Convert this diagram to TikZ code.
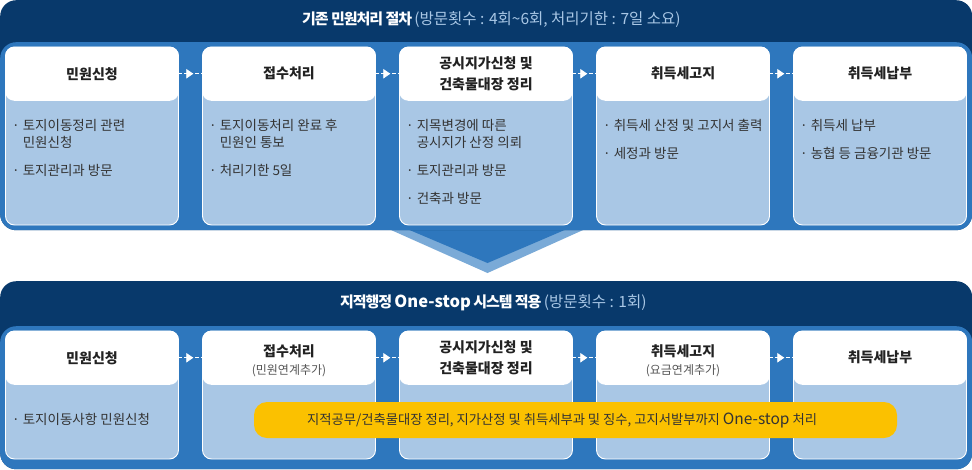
\documentclass[tikz,border=0pt]{standalone}
\usepackage{fontspec}
\setmainfont{Noto Sans CJK KR}
\usetikzlibrary{arrows.meta,decorations.markings}
\definecolor{navy}{HTML}{08396B}
\definecolor{bandblue}{HTML}{2E77BD}
\definecolor{cardbody}{HTML}{A9C7E5}
\definecolor{lightarrow}{HTML}{7AAAD7}
\definecolor{subtxt}{HTML}{A9C7E5}
\definecolor{pillyellow}{HTML}{FBC100}
\definecolor{titletxt}{HTML}{222222}
\definecolor{bodytxt}{HTML}{333333}
\definecolor{notetxt}{HTML}{555555}
\newcommand{\headbold}[1]{{\fontsize{15}{17}\selectfont\bfseries\addfontfeature{LetterSpace=-7}#1}}
\newcommand{\headlatin}[1]{{\fontsize{16.5}{17}\selectfont\bfseries #1}}
\newcommand{\headparen}[1]{{\fontsize{15.5}{17}\selectfont\color{subtxt}#1}}
\newcommand{\pilllatin}[1]{{\fontsize{15.5}{15}\selectfont #1}}
\begin{document}
\begin{tikzpicture}[x=1pt,y=-1pt,
  navypanel/.style={fill=navy, rounded corners=16pt, inner sep=0pt, minimum width=972pt},
  bandpanel/.style={fill=bandblue, rounded corners=16pt, inner sep=0pt, minimum width=972pt},
  headtxt/.style={text=white, inner sep=0pt, anchor=west},
  cardbox/.style={fill=cardbody, draw=white, line width=0.9pt, rounded corners=9pt, inner sep=0pt, minimum width=173pt},
  cardhead/.style={fill=white, rounded corners=9pt, inner sep=0pt, minimum width=173.5pt, minimum height=54pt, anchor=north},
  titletext/.style={text=titletxt, font=\fontsize{14}{20.5}\selectfont\bfseries, align=center, inner sep=0pt},
  notetext/.style={text=notetxt, font=\fontsize{12}{13}\selectfont, inner sep=0pt},
  bodytext/.style={text=bodytxt, font=\fontsize{13.5}{17}\selectfont, align=left, inner sep=0pt, anchor=north west},
  flowline/.style={white, line width=0.8pt, dash pattern=on 3.5pt off 2pt,
    postaction={decorate, decoration={markings, mark=at position 0.62 with {\arrow{Triangle[width=9.5pt,length=7pt]}}}}},
  pillbox/.style={fill=pillyellow, rounded corners=13pt, inner sep=0pt, minimum width=643pt, minimum height=36pt},
  pilltext/.style={text=bodytxt, font=\fontsize{13.3}{15}\selectfont, inner sep=0pt}
]
\useasboundingbox (0,0) rectangle (972,469);

% ---------- top panel ----------
\fill[lightarrow] (382,226) -- (592,226) -- (487.5,273) -- cycle;
\fill[bandblue] (400,226) -- (574,226) -- (487.5,263) -- cycle;
\node[navypanel, anchor=north west, minimum height=230pt] (toppanel) at (0,0) {};
\node[bandpanel, anchor=north west, minimum height=188pt] (topband) at (0,42) {};
\node[headtxt] (toptitle) at (302,20) {\headbold{기존 민원처리 절차} \headparen{(방문횟수 : 4회\textasciitilde6회, 처리기한 : 7일 소요)}};

\foreach \i/\cx in {1/92,2/289,3/486,4/683,5/880}{
  \node[cardbox, minimum height=178pt] (tc\i) at (\cx,136) {};
  \node[cardhead] (th\i) at (tc\i.north) {};
}
\node[titletext] (tt1) at (th1) {민원신청};
\node[titletext] (tt2) at (th2) {접수처리};
\node[titletext] (tt3) at (th3) {공시지가신청 및\\건축물대장 정리};
\node[titletext] (tt4) at (th4) {취득세고지};
\node[titletext] (tt5) at (th5) {취득세납부};

\node[bodytext] (tb1) at (12,119) {· 토지이동정리 관련\\\hphantom{· }민원신청\\[11pt]· 토지관리과 방문};
\node[bodytext] (tb2) at (209,119) {· 토지이동처리 완료 후\\\hphantom{· }민원인 통보\\[11pt]· 처리기한 5일};
\node[bodytext] (tb3) at (406,119) {· 지목변경에 따른\\\hphantom{· }공시지가 산정 의뢰\\[11pt]· 토지관리과 방문\\[11pt]· 건축과 방문};
\node[bodytext] (tb4) at (603,119) {· 취득세 산정 및 고지서 출력\\[11pt]· 세정과 방문};
\node[bodytext] (tb5) at (800,119) {· 취득세 납부\\[11pt]· 농협 등 금융기관 방문};

\foreach \a/\b in {1/2,2/3,3/4,4/5}{
  \draw[flowline] (tc\a.east |- th\a.center) -- (tc\b.west |- th\b.center);
}

% ---------- bottom panel ----------
\node[navypanel, anchor=north west, minimum height=188pt] (botpanel) at (0,281) {};
\node[bandpanel, anchor=north west, minimum height=143pt] (botband) at (0,326) {};
\node[headtxt] (bottitle) at (340,303) {\headbold{지적행정} \headlatin{One-stop} \headbold{시스템 적용} \headparen{(방문횟수 : 1회)}};

\foreach \i/\cx in {1/92,2/289,3/486,4/683,5/880}{
  \node[cardbox, minimum height=128pt] (bc\i) at (\cx,395) {};
  \node[cardhead] (bh\i) at (bc\i.north) {};
}
\node[titletext] (bt1) at (bh1) {민원신청};
\node[titletext] (bt2) at ([yshift=6pt]bh2.center) {접수처리};
\node[notetext] (bn2) at ([yshift=-13pt]bh2.center) {(민원연계추가)};
\node[titletext] (bt3) at (bh3) {공시지가신청 및\\건축물대장 정리};
\node[titletext] (bt4) at ([yshift=6pt]bh4.center) {취득세고지};
\node[notetext] (bn4) at ([yshift=-13pt]bh4.center) {(요금연계추가)};
\node[titletext] (bt5) at (bh5) {취득세납부};

\node[bodytext] (bb1) at (12,413) {· 토지이동사항 민원신청};

\foreach \a/\b in {1/2,2/3,3/4,4/5}{
  \draw[flowline] (bc\a.east |- bh\a.center) -- (bc\b.west |- bh\b.center);
}

\node[pillbox] (pill) at (575.5,420) {};
\node[pilltext, anchor=west] (pillt) at (307,420) {지적공무/건축물대장 정리, 지가산정 및 취득세부과 및 징수, 고지서발부까지 \pilllatin{One-stop} 처리};
\end{tikzpicture}
\end{document}
